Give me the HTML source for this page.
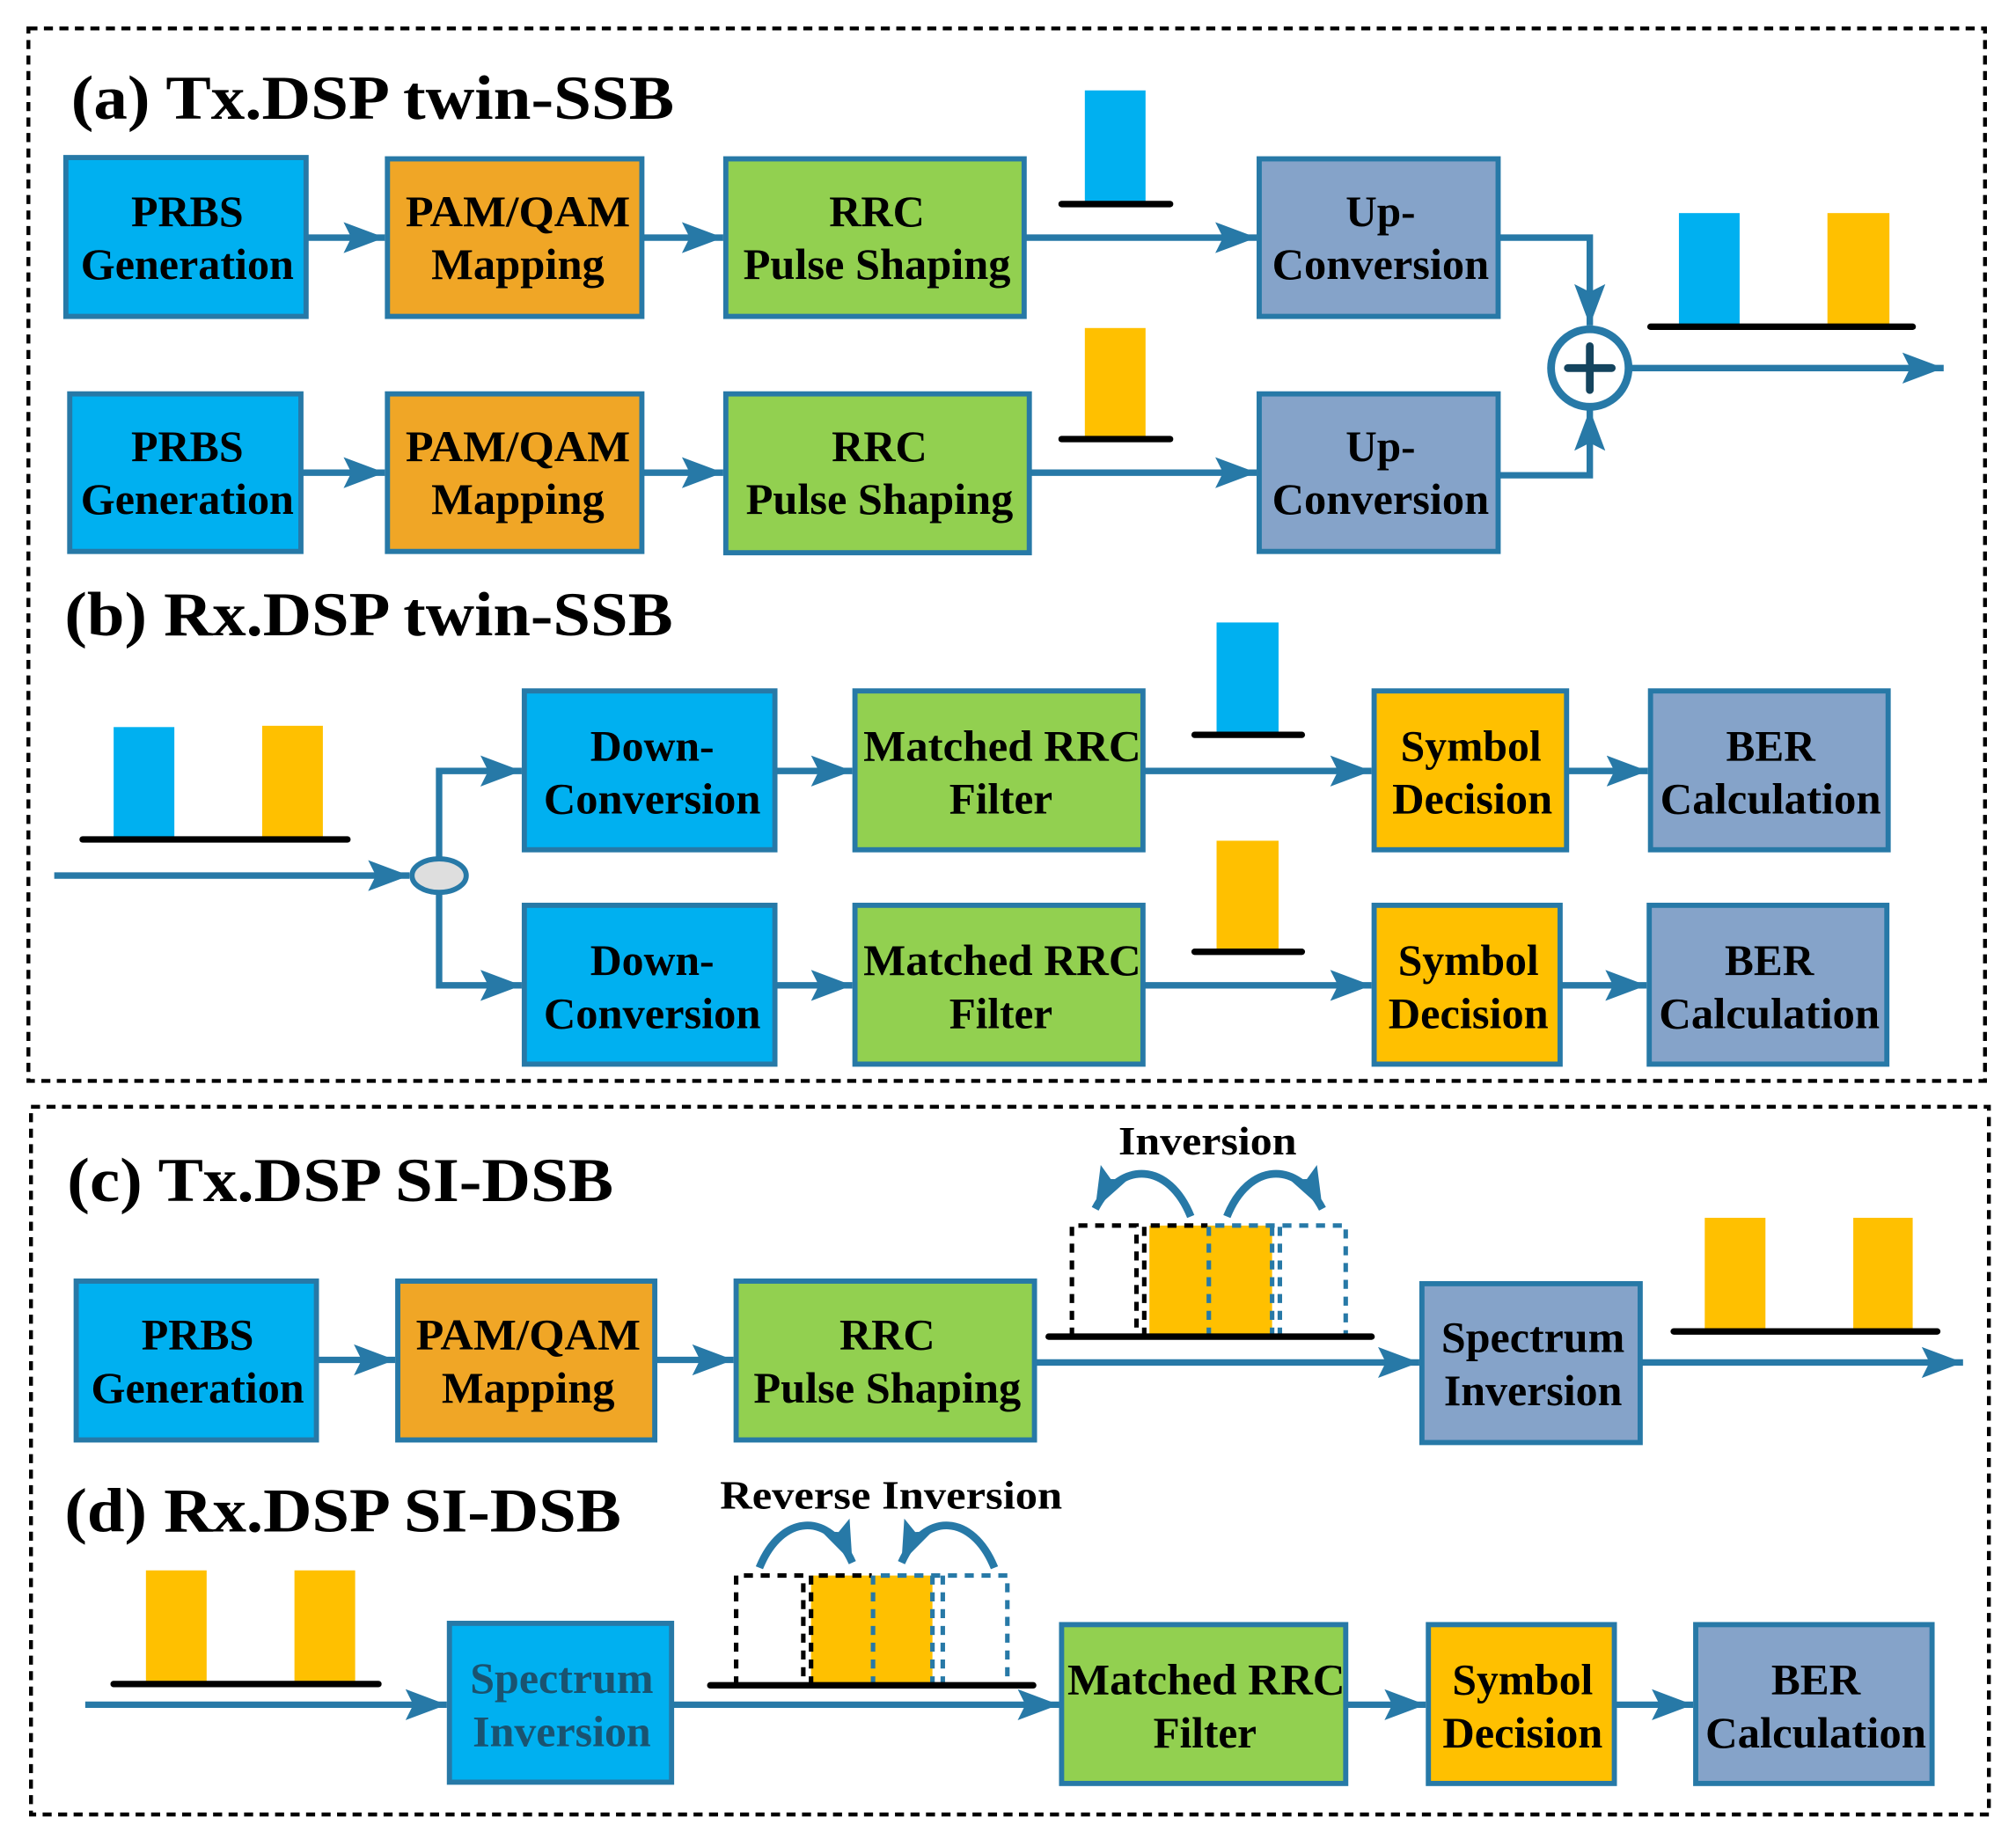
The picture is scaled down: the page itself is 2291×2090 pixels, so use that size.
<!DOCTYPE html>
<html><head><meta charset="utf-8"><style>
html,body{margin:0;padding:0;background:#fff}
svg{display:block}
text{font-family:"Liberation Serif","DejaVu Serif","Times New Roman",serif;font-weight:bold;fill:#000}
.b{stroke:#2779a7;stroke-width:4}
.t{font-size:34px;text-anchor:middle}
.h{font-size:48px}
.c{fill:none;stroke:#2779a7;stroke-width:5}
</style></head><body>
<svg width="2291" height="2090" viewBox="0 0 1561 1424" preserveAspectRatio="none" xmlns="http://www.w3.org/2000/svg">
<defs>
<marker id="a" markerUnits="userSpaceOnUse" markerWidth="34" markerHeight="28" refX="32" refY="14" orient="auto">
<path d="M0,2 L32,14 L0,26 L6,14 z" fill="#2779a7"/></marker>
</defs>
<rect x="22" y="22" width="1515" height="815" fill="none" stroke="#000" stroke-width="3" stroke-dasharray="7,5"/>
<rect x="24" y="857" width="1516" height="548" fill="none" stroke="#000" stroke-width="3" stroke-dasharray="7,5"/>
<text class="h" x="55" y="92" textLength="467" lengthAdjust="spacingAndGlyphs">(a) Tx.DSP twin-SSB</text>
<text class="h" x="50" y="492" textLength="471" lengthAdjust="spacingAndGlyphs">(b) Rx.DSP twin-SSB</text>
<text class="h" x="52" y="930" textLength="423" lengthAdjust="spacingAndGlyphs">(c) Tx.DSP SI-DSB</text>
<text class="h" x="50" y="1186" textLength="431" lengthAdjust="spacingAndGlyphs">(d) Rx.DSP SI-DSB</text>

<!-- (a) connectors -->
<g class="c">
<line x1="237" y1="184" x2="298" y2="184" marker-end="url(#a)"/>
<line x1="497" y1="184" x2="560" y2="184" marker-end="url(#a)"/>
<line x1="793" y1="184" x2="973" y2="184" marker-end="url(#a)"/>
<line x1="233" y1="366" x2="298" y2="366" marker-end="url(#a)"/>
<line x1="497" y1="366" x2="560" y2="366" marker-end="url(#a)"/>
<line x1="797" y1="366" x2="973" y2="366" marker-end="url(#a)"/>
<polyline points="1160,184 1231,184 1231,252" marker-end="url(#a)"/>
<polyline points="1160,368 1231,368 1231,317" marker-end="url(#a)"/>
<line x1="1262" y1="285" x2="1505" y2="285" marker-end="url(#a)"/>
</g>
<circle cx="1231" cy="285" r="30" fill="#fff" stroke="#2779a7" stroke-width="6"/>
<path d="M1231,268 V302 M1214,285 H1248" stroke="#14445e" stroke-width="6" stroke-linecap="round"/>
<rect x="840" y="70" width="47" height="88" fill="#00b0f0"/><line x1="822" y1="158" x2="906" y2="158" stroke="#000" stroke-width="5" stroke-linecap="round"/>
<rect x="840" y="254" width="47" height="86" fill="#ffc000"/><line x1="822" y1="340" x2="906" y2="340" stroke="#000" stroke-width="5" stroke-linecap="round"/>
<rect x="1300" y="165" width="47" height="87" fill="#00b0f0"/><rect x="1415" y="165" width="48" height="87" fill="#ffc000"/>
<line x1="1278" y1="253" x2="1481" y2="253" stroke="#000" stroke-width="5" stroke-linecap="round"/>

<g class="b">
<rect x="51" y="122" width="186" height="123" fill="#00b0f0"/>
<rect x="300" y="123" width="197" height="122" fill="#f0a626"/>
<rect x="562" y="123" width="231" height="122" fill="#92d050"/>
<rect x="975" y="123" width="185" height="122" fill="#85a3c9"/>
<rect x="54" y="305" width="179" height="122" fill="#00b0f0"/>
<rect x="300" y="305" width="197" height="122" fill="#f0a626"/>
<rect x="562" y="305" width="235" height="123" fill="#92d050"/>
<rect x="975" y="305" width="185" height="122" fill="#85a3c9"/>
</g>
<g lengthAdjust="spacingAndGlyphs">
<text class="t" x="145" y="175" textLength="87" lengthAdjust="spacingAndGlyphs">PRBS</text><text class="t" x="145" y="216" textLength="165" lengthAdjust="spacingAndGlyphs">Generation</text>
<text class="t" x="401" y="175" textLength="174" lengthAdjust="spacingAndGlyphs">PAM/QAM</text><text class="t" x="401" y="216" textLength="134" lengthAdjust="spacingAndGlyphs">Mapping</text>
<text class="t" x="679" y="175" textLength="74" lengthAdjust="spacingAndGlyphs">RRC</text><text class="t" x="679" y="216" textLength="207" lengthAdjust="spacingAndGlyphs">Pulse Shaping</text>
<text class="t" x="1069" y="175" textLength="54" lengthAdjust="spacingAndGlyphs">Up-</text><text class="t" x="1069" y="216" textLength="168" lengthAdjust="spacingAndGlyphs">Conversion</text>
<text class="t" x="145" y="357" textLength="87" lengthAdjust="spacingAndGlyphs">PRBS</text><text class="t" x="145" y="398" textLength="165" lengthAdjust="spacingAndGlyphs">Generation</text>
<text class="t" x="401" y="357" textLength="174" lengthAdjust="spacingAndGlyphs">PAM/QAM</text><text class="t" x="401" y="398" textLength="134" lengthAdjust="spacingAndGlyphs">Mapping</text>
<text class="t" x="681" y="357" textLength="74" lengthAdjust="spacingAndGlyphs">RRC</text><text class="t" x="681" y="398" textLength="207" lengthAdjust="spacingAndGlyphs">Pulse Shaping</text>
<text class="t" x="1069" y="357" textLength="54" lengthAdjust="spacingAndGlyphs">Up-</text><text class="t" x="1069" y="398" textLength="168" lengthAdjust="spacingAndGlyphs">Conversion</text>
</g>

<!-- (b) -->
<rect x="88" y="563" width="47" height="87" fill="#00b0f0"/><rect x="203" y="562" width="47" height="88" fill="#ffc000"/>
<line x1="64" y1="650" x2="269" y2="650" stroke="#000" stroke-width="5" stroke-linecap="round"/>
<rect x="942" y="482" width="48" height="86" fill="#00b0f0"/><line x1="925" y1="569" x2="1008" y2="569" stroke="#000" stroke-width="5" stroke-linecap="round"/>
<rect x="942" y="651" width="48" height="86" fill="#ffc000"/><line x1="925" y1="737" x2="1008" y2="737" stroke="#000" stroke-width="5" stroke-linecap="round"/>
<g class="c">
<line x1="42" y1="678" x2="317" y2="678" marker-end="url(#a)"/>
<polyline points="340,666 340,597 404,597" marker-end="url(#a)"/>
<polyline points="340,690 340,763 404,763" marker-end="url(#a)"/>
<line x1="600" y1="597" x2="660" y2="597" marker-end="url(#a)"/>
<line x1="885" y1="597" x2="1062" y2="597" marker-end="url(#a)"/>
<line x1="1213" y1="597" x2="1276" y2="597" marker-end="url(#a)"/>
<line x1="600" y1="763" x2="660" y2="763" marker-end="url(#a)"/>
<line x1="885" y1="763" x2="1062" y2="763" marker-end="url(#a)"/>
<line x1="1208" y1="763" x2="1275" y2="763" marker-end="url(#a)"/>
</g>
<ellipse cx="340" cy="678" rx="21" ry="13" fill="#dedede" stroke="#2779a7" stroke-width="4"/>
<g class="b">
<rect x="406" y="535" width="194" height="123" fill="#00b0f0"/>
<rect x="662" y="535" width="223" height="123" fill="#92d050"/>
<rect x="1064" y="535" width="149" height="123" fill="#ffc000"/>
<rect x="1278" y="535" width="184" height="123" fill="#85a3c9"/>
<rect x="406" y="701" width="194" height="123" fill="#00b0f0"/>
<rect x="662" y="701" width="223" height="123" fill="#92d050"/>
<rect x="1064" y="701" width="144" height="123" fill="#ffc000"/>
<rect x="1277" y="701" width="184" height="123" fill="#85a3c9"/>
</g>
<text class="t" x="505" y="589" textLength="96" lengthAdjust="spacingAndGlyphs">Down-</text><text class="t" x="505" y="630" textLength="168" lengthAdjust="spacingAndGlyphs">Conversion</text>
<text class="t" x="776" y="589" textLength="215" lengthAdjust="spacingAndGlyphs">Matched RRC</text><text class="t" x="775" y="630" textLength="80" lengthAdjust="spacingAndGlyphs">Filter</text>
<text class="t" x="1139" y="589" textLength="109" lengthAdjust="spacingAndGlyphs">Symbol</text><text class="t" x="1140" y="630" textLength="124" lengthAdjust="spacingAndGlyphs">Decision</text>
<text class="t" x="1371" y="589" textLength="69" lengthAdjust="spacingAndGlyphs">BER</text><text class="t" x="1371" y="630" textLength="171" lengthAdjust="spacingAndGlyphs">Calculation</text>
<text class="t" x="505" y="755" textLength="96" lengthAdjust="spacingAndGlyphs">Down-</text><text class="t" x="505" y="796" textLength="168" lengthAdjust="spacingAndGlyphs">Conversion</text>
<text class="t" x="776" y="755" textLength="215" lengthAdjust="spacingAndGlyphs">Matched RRC</text><text class="t" x="775" y="796" textLength="80" lengthAdjust="spacingAndGlyphs">Filter</text>
<text class="t" x="1137" y="755" textLength="109" lengthAdjust="spacingAndGlyphs">Symbol</text><text class="t" x="1137" y="796" textLength="124" lengthAdjust="spacingAndGlyphs">Decision</text>
<text class="t" x="1370" y="755" textLength="69" lengthAdjust="spacingAndGlyphs">BER</text><text class="t" x="1370" y="796" textLength="171" lengthAdjust="spacingAndGlyphs">Calculation</text>

<!-- (c) -->
<text class="t" x="935" y="894" style="font-size:31px" textLength="138" lengthAdjust="spacingAndGlyphs">Inversion</text>
<rect x="890" y="949" width="95" height="86" fill="#ffc000"/>
<g fill="none" stroke-width="3.5" stroke-dasharray="7,6">
<path d="M830,1035 V949 H880 V1035 M886,1035 V949 H935" stroke="#000"/>
<path d="M936,1035 V949 H1042 V1035 M985,1035 V949 M991,1035 V949" stroke="#2779a7"/>
</g>
<line x1="812" y1="1035" x2="1062" y2="1035" stroke="#000" stroke-width="5" stroke-linecap="round"/>
<path class="c" d="M922,942 C905,900 868,898 848,936" style="stroke-width:6" marker-end="url(#a)"/>
<path class="c" d="M950,942 C967,900 1004,898 1024,936" style="stroke-width:6" marker-end="url(#a)"/>
<rect x="1320" y="943" width="47" height="87" fill="#ffc000"/><rect x="1435" y="943" width="46" height="87" fill="#ffc000"/>
<line x1="1296" y1="1031" x2="1500" y2="1031" stroke="#000" stroke-width="5" stroke-linecap="round"/>
<g class="c">
<line x1="245" y1="1053" x2="306" y2="1053" marker-end="url(#a)"/>
<line x1="507" y1="1053" x2="568" y2="1053" marker-end="url(#a)"/>
<line x1="801" y1="1055" x2="1099" y2="1055" marker-end="url(#a)"/>
<line x1="1270" y1="1055" x2="1520" y2="1055" marker-end="url(#a)"/>
</g>
<g class="b">
<rect x="59" y="992" width="186" height="123" fill="#00b0f0"/>
<rect x="308" y="992" width="199" height="123" fill="#f0a626"/>
<rect x="570" y="992" width="231" height="123" fill="#92d050"/>
<rect x="1101" y="994" width="169" height="123" fill="#85a3c9"/>
</g>
<text class="t" x="153" y="1045" textLength="87" lengthAdjust="spacingAndGlyphs">PRBS</text><text class="t" x="153" y="1086" textLength="165" lengthAdjust="spacingAndGlyphs">Generation</text>
<text class="t" x="409" y="1045" textLength="174" lengthAdjust="spacingAndGlyphs">PAM/QAM</text><text class="t" x="409" y="1086" textLength="134" lengthAdjust="spacingAndGlyphs">Mapping</text>
<text class="t" x="687" y="1045" textLength="74" lengthAdjust="spacingAndGlyphs">RRC</text><text class="t" x="687" y="1086" textLength="207" lengthAdjust="spacingAndGlyphs">Pulse Shaping</text>
<text class="t" x="1187" y="1047" textLength="142" lengthAdjust="spacingAndGlyphs">Spectrum</text><text class="t" x="1187" y="1088" textLength="138" lengthAdjust="spacingAndGlyphs">Inversion</text>

<!-- (d) -->
<text class="t" x="690" y="1168" style="font-size:31px" textLength="265" lengthAdjust="spacingAndGlyphs">Reverse Inversion</text>
<rect x="113" y="1216" width="47" height="87" fill="#ffc000"/><rect x="228" y="1216" width="47" height="87" fill="#ffc000"/>
<line x1="88" y1="1304" x2="293" y2="1304" stroke="#000" stroke-width="5" stroke-linecap="round"/>
<rect x="628" y="1220" width="94" height="85" fill="#ffc000"/>
<g fill="none" stroke-width="3.5" stroke-dasharray="7,6">
<path d="M570,1305 V1220 H622 V1305 M628,1305 V1220 H675" stroke="#000"/>
<path d="M676,1305 V1220 H780 V1305 M722,1305 V1220 M730,1305 V1220" stroke="#2779a7"/>
</g>
<line x1="550" y1="1305" x2="800" y2="1305" stroke="#000" stroke-width="5" stroke-linecap="round"/>
<path class="c" d="M588,1214 C605,1172 642,1170 660,1210" style="stroke-width:6" marker-end="url(#a)"/>
<path class="c" d="M770,1214 C753,1172 716,1170 698,1210" style="stroke-width:6" marker-end="url(#a)"/>
<g class="c">
<line x1="66" y1="1320" x2="346" y2="1320" marker-end="url(#a)"/>
<line x1="520" y1="1320" x2="820" y2="1320" marker-end="url(#a)"/>
<line x1="1042" y1="1320" x2="1104" y2="1320" marker-end="url(#a)"/>
<line x1="1250" y1="1320" x2="1311" y2="1320" marker-end="url(#a)"/>
</g>
<g class="b">
<rect x="348" y="1257" width="172" height="123" fill="#00b0f0"/>
<rect x="822" y="1258" width="220" height="123" fill="#92d050"/>
<rect x="1106" y="1258" width="144" height="123" fill="#ffc000"/>
<rect x="1313" y="1258" width="183" height="123" fill="#85a3c9"/>
</g>
<text class="t" x="435" y="1311" style="fill:#1a5370" textLength="142" lengthAdjust="spacingAndGlyphs">Spectrum</text><text class="t" x="435" y="1352" style="fill:#1a5370" textLength="138" lengthAdjust="spacingAndGlyphs">Inversion</text>
<text class="t" x="934" y="1312" textLength="215" lengthAdjust="spacingAndGlyphs">Matched RRC</text><text class="t" x="933" y="1353" textLength="80" lengthAdjust="spacingAndGlyphs">Filter</text>
<text class="t" x="1179" y="1312" textLength="109" lengthAdjust="spacingAndGlyphs">Symbol</text><text class="t" x="1179" y="1353" textLength="124" lengthAdjust="spacingAndGlyphs">Decision</text>
<text class="t" x="1406" y="1312" textLength="69" lengthAdjust="spacingAndGlyphs">BER</text><text class="t" x="1406" y="1353" textLength="171" lengthAdjust="spacingAndGlyphs">Calculation</text>
</svg>
</body></html>
